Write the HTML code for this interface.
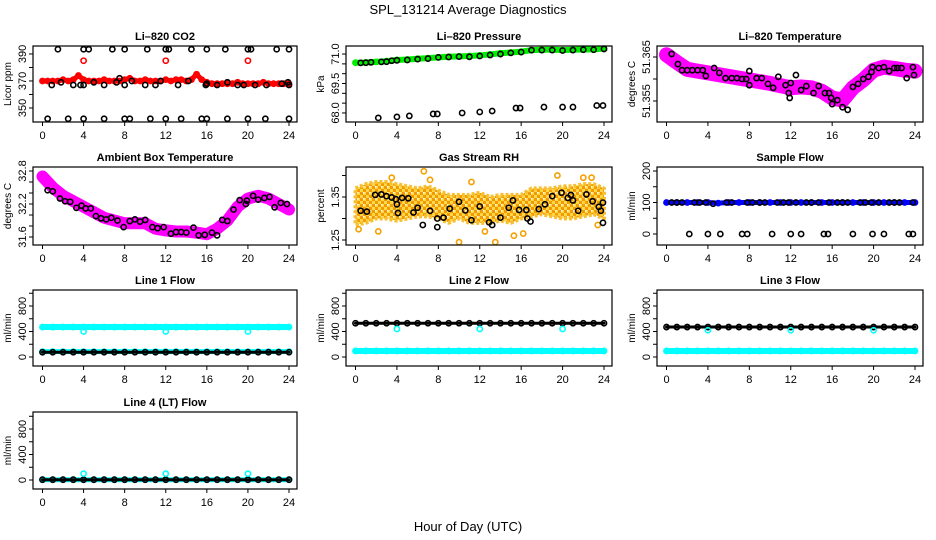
<!DOCTYPE html>
<html><head><meta charset="utf-8">
<style>
html,body{margin:0;padding:0;background:#fff;}
svg{display:block;font-family:"Liberation Sans",Arial,sans-serif;}
</style></head>
<body>
<svg id="chart" width="936" height="540" viewBox="0 0 936 540" xmlns="http://www.w3.org/2000/svg">
<defs>
<pattern id="rhpat" width="6" height="6" patternUnits="userSpaceOnUse">
<rect width="6" height="6" fill="#ffd84a"/>
<rect x="0" y="0" width="3" height="3" fill="#f29a00"/>
<rect x="3" y="3" width="3" height="3" fill="#f29a00"/>
<rect x="3" y="0" width="1.5" height="1.5" fill="#ffffff"/>
</pattern>
</defs>
<text x="468" y="14" text-anchor="middle" font-size="13">SPL_131214  Average Diagnostics</text>
<text x="468" y="531" text-anchor="middle" font-size="13">Hour of Day (UTC)</text>
</svg>
<script>
// ---------- data ----------
const xTicks = [0,4,8,12,16,20,24];

const co2Red = [370,370,370,370,371,370,371,374,371,370,370,370,371,370,370,370,371,372,370,370,371,370,370,370,371,370,371,371,370,371,375,371,369,368,368,368,368,368,369,368,368,368,368,369,368,368,368,368,368];
const co2RedOutHours = [4,12,20];
const co2RedOutVals = [385,385,385];
const co2BlkHours = [1.5,4,4.5,6.8,8,10.2,12,12.3,14.5,16,17.8,20,20.3,22.8,24, 0.5,2.5,4,6,8,8.5,10.5,12,13.5,15.5,16,18,20,21.7,24, 0.9,1.8,3,3.7,4,5,6,7.2,7.5,8,8.7,10,11,11.5,13.2,14.2,15.9,16,17,18,19,19.6,20.7,21.8,23.3,23.9,24];
const co2BlkVals = [393.5,393.5,393.5,393.5,393.5,393.5,393.5,393.5,393.5,393.5,393.5,393.5,393.5,393.5,393.5, 342,342,342,342,342,342,342,342,342,342,342,342,342,342,342, 367,369,367,367,367,369,367,369,372,367,370,367,367,370,367,370,367,368,367,369,367,367,367,367,368,369,367];

const presGreen = [70.56,70.57,70.6,70.64,70.7,70.72,70.76,70.79,70.83,70.86,70.88,70.9,70.93,70.98,71.04,71.08,71.12,71.2,71.22,71.22,71.2,71.22,71.23,71.24,71.28];
const presBlkHours = [2.2,4,5.2,7.5,7.9,10.3,12,13.2,15.5,15.9,18.2,20,21,23.3,23.9, 0.5,1,1.5,2.5,3,3.5,4,5,6,7,8,9,10,11,12,13,14,15,16,17,18,19,20,21,22,23,24];
const presBlkVals = [67.75,67.8,67.85,67.95,67.95,68.0,68.05,68.1,68.25,68.25,68.3,68.3,68.3,68.38,68.38, 70.55,70.56,70.58,70.6,70.61,70.66,70.68,70.7,70.74,70.77,70.83,70.85,70.87,70.86,70.9,70.95,71.0,71.06,71.1,71.2,71.2,71.2,71.18,71.2,71.22,71.22,71.26];

const tempMag = [51.3655,51.3638,51.3622,51.3618,51.3614,51.3610,51.3606,51.3602,51.3598,51.3594,51.3590,51.3585,51.3580,51.3582,51.3580,51.3572,51.3557,51.3552,51.3580,51.3598,51.3620,51.3627,51.3624,51.3620,51.3618];
const tempBlkHours = [0.5,1.1,1.5,2,2.5,3,3.5,3.8,4.6,5.1,5.7,6.3,6.8,7.3,7.7,8,8,8.7,9.2,9.8,10.3,10.8,11.5,11.8,11.9,12,12.5,13,13.5,14.2,14.7,15.3,15.7,15.9,16,16.5,17,17.5,18,18.5,19,19.5,19.8,19.9,20.5,21,21.5,22,22.3,22.7,23.2,23.8,23.9];
const tempBlkVals = [51.3657,51.3634,51.3620,51.3620,51.3620,51.3620,51.3620,51.3607,51.3625,51.3614,51.3602,51.3602,51.3602,51.3600,51.3600,51.3618,51.3586,51.3602,51.3602,51.3589,51.3580,51.3605,51.3586,51.3568,51.3557,51.3591,51.3609,51.3575,51.3584,51.3568,51.3584,51.3568,51.3568,51.3557,51.3543,51.3552,51.3536,51.3530,51.3582,51.3589,51.3600,51.3605,51.3616,51.3627,51.3625,51.3627,51.3618,51.3625,51.3625,51.3625,51.3602,51.3627,51.3609];

const ambMag = [32.7,32.5,32.35,32.25,32.15,32.05,31.95,31.9,31.85,31.85,31.85,31.75,31.72,31.7,31.7,31.68,31.65,31.75,31.9,32.15,32.3,32.35,32.3,32.2,32.1];
const ambBlkHours = [0.5,1,1.7,2.2,2.7,3.3,3.8,4.2,4.7,5.2,5.7,6.2,6.7,7.3,7.9,8.5,9,9.5,10,10.7,11.2,11.8,12.5,13,13.5,14,14.7,15.2,15.8,16.5,17,17.5,18,18.6,19.2,19.8,19.9,20.5,21,21.6,22.1,22.6,23.2,23.8];
const ambBlkVals = [32.45,32.43,32.3,32.25,32.24,32.13,32.17,32.12,32.12,31.98,31.94,31.92,31.95,31.9,31.78,31.89,31.92,31.88,31.91,31.78,31.76,31.78,31.66,31.69,31.69,31.68,31.77,31.63,31.64,31.68,31.63,31.91,31.89,32.1,32.27,32.2,32.26,32.35,32.28,32.31,32.33,32.14,32.22,32.2];

const rhUpper = [1.37,1.38,1.385,1.385,1.38,1.375,1.37,1.375,1.365,1.355,1.355,1.355,1.36,1.35,1.355,1.355,1.355,1.37,1.37,1.37,1.375,1.375,1.38,1.38,1.37];
const rhLower = [1.285,1.29,1.30,1.30,1.295,1.30,1.305,1.305,1.30,1.29,1.30,1.29,1.29,1.29,1.295,1.29,1.30,1.305,1.31,1.305,1.30,1.30,1.305,1.31,1.30];
const rhOutHours = [0.3,2.2,3.5,6.6,7.2,10,11.2,13.5,15.3,16.2,19.5,22,22.8,23.4,12.5];
const rhOutVals = [1.275,1.27,1.395,1.41,1.39,1.245,1.385,1.245,1.26,1.265,1.40,1.395,1.395,1.285,1.27];
const rhBlkHours = [0.5,1.1,1.9,2.5,3,3.5,3.9,4,4.1,4.5,5.1,5.6,6,6.5,7.2,7.9,7.9,8.5,9.1,10,10.6,11.2,12,12.9,13.2,14,14.8,15.2,15.8,16.5,16.6,16.9,17.7,18.3,19,19.9,20.5,20.8,21,21.5,22.3,22.9,23.5,23.9,23.9,23.7];
const rhBlkVals = [1.318,1.316,1.355,1.356,1.352,1.349,1.345,1.333,1.313,1.348,1.347,1.314,1.325,1.285,1.318,1.28,1.30,1.302,1.323,1.339,1.319,1.296,1.328,1.291,1.285,1.302,1.325,1.342,1.32,1.32,1.30,1.293,1.322,1.333,1.352,1.36,1.348,1.355,1.342,1.318,1.356,1.34,1.327,1.337,1.29,1.318];

const sampBlue = [100,100,100,100,100,98,100,100,100,100,100,100,100,100,100,100,100,100,100,100,100,100,100,100,100];
const sampBlkHours = [0.5,1,1.5,2.7,3.2,3.8,4.5,5.8,6.3,7.8,8.3,9,9.5,10.7,11.3,11.8,12.5,13.5,14,14.7,15.7,16.5,17,17.5,18.7,19.2,19.8,20.5,21.5,22,22.5,23.8, 2.2,4,5.2,7.3,7.8,10.2,12,13,15.2,15.6,18,19.9,21,23.4,23.8];
const sampBlkVals = [100,100,100,100,100,100,96,100,100,100,100,100,100,100,100,100,100,100,100,100,100,100,100,100,100,100,100,100,100,100,100,100, 0,0,0,0,0,0,0,0,0,0,0,0,0,0,0];

const l1CyanHi = [470,470,470,470,470,470,470,470,470,470,470,470,470,470,470,470,470,470,470,470,470,470,470,470,470];
const l1CyanLo = [85,85,85,85,85,85,85,85,85,85,85,85,85,85,85,85,85,85,85,85,85,85,85,85,85];
const l1Black = [75,75,75,75,75,75,75,75,75,75,75,75,75,75,75,75,75,75,75,75,75,75,75,75,75];
const l1OutVals = [400,400,400];

const l2Black = [530,530,530,530,530,530,530,530,530,530,530,530,530,530,530,530,530,530,530,530,530,530,530,530,530];
const l2Cyan = [95,95,95,95,95,95,95,95,95,95,95,95,95,95,95,95,95,95,95,95,95,95,95,95,95];
const l2OutVals = [440,440,440];

const l3Black = [470,470,470,470,470,470,470,470,470,470,470,470,470,470,470,470,470,470,470,470,470,470,470,470,470];
const l3Cyan = [95,95,95,95,95,95,95,95,95,95,95,95,95,95,95,95,95,95,95,95,95,95,95,95,95];
const l3OutVals = [420,420,420];

const l4Black = [5,5,5,5,5,5,5,5,5,5,5,5,5,5,5,5,5,5,5,5,5,5,5,5,5];
const l4Cyan = [5,5,5,5,5,5,5,5,5,5,5,5,5,5,5,5,5,5,5,5,5,5,5,5,5];
const l4OutVals = [100,100,100];
const flowOutHours = [4,12,20];

// ---------- drawing ----------
const NS = 'http://www.w3.org/2000/svg';
const svg = document.getElementById('chart');
function mk(tag, attrs, parent){
  const e = document.createElementNS(NS, tag);
  for (const k in attrs) e.setAttribute(k, attrs[k]);
  (parent||svg).appendChild(e);
  return e;
}
const colBox = [[33,297],[346,612],[657,923]];
const rowBox = [[46,122],[167,245],[290,366],[412,489]];

function makePanel(name, col, row, lo, hi, ticks, labels, title, ylab){
  const [bx0,bx1] = colBox[col], [by0,by1] = rowBox[row];
  const g = mk('g', {});
  
  
  const x0 = bx0 + 9.5, x1 = bx1 - 8;
  const xs = h => x0 + (x1 - x0) * h / 24;
  const ys = v => by1 - (v - lo) / (hi - lo) * (by1 - by0);
  const t = mk('text', {x:(bx0+bx1)/2, y:by0-6, 'text-anchor':'middle','font-size':11,'font-weight':'bold'}, g);
  t.textContent = title;
  
  
  const yl = mk('text', {transform:`translate(${bx0-22},${(by0+by1)/2}) rotate(-90)`, 'text-anchor':'middle','font-size':10}, g);
  yl.textContent = ylab;
  
  
  const ax = mk('g', {}, g);
  
  
  xTicks.forEach(h => {
    mk('line', {x1:xs(h), x2:xs(h), y1:by1, y2:by1+4, stroke:'#000','stroke-width':1}, ax);
    const tl = mk('text', {x:xs(h), y:by1+17, 'text-anchor':'middle','font-size':11}, ax);
    tl.textContent = h;
  });
  const ay = mk('g', {}, g);
  
  
  ticks.forEach(v => {
    mk('line', {x1:bx0-4, x2:bx0, y1:ys(v), y2:ys(v), stroke:'#000','stroke-width':1}, ay);
  });
  labels.forEach(v => {
    const tl = mk('text', {transform:`translate(${bx0-7},${ys(v)}) rotate(-90)`, 'text-anchor':'middle','font-size':11}, ay);
    tl.textContent = v;
  });
  const plot = mk('g', {}, g);
  
  
  mk('rect', {x:bx0, y:by0, width:bx1-bx0, height:by1-by0, fill:'none', stroke:'#000','stroke-width':1.2}, g);
  return {plot, xs, ys, by0, by1, bx0, bx1};
}
function band(p, vals, color, w, sname){
  const n = vals.length;
  const pts = vals.map((v,i)=>`${p.xs(i*24/(n-1))},${p.ys(v)}`).join(' ');
  const pl = mk('polyline', {points:pts, fill:'none', stroke:color, 'stroke-width':w, 'stroke-linejoin':'round','stroke-linecap':'round'}, p.plot);
  
  
  vals.forEach((v,i)=>{
    const c = mk('circle', {cx:p.xs(i*24/(n-1)), cy:p.ys(v), r:2.6, fill:'none', stroke:color, 'stroke-width':1.6}, p.plot);
    
    
  });
}
function pts(p, hours, vals, color, sname, sw){
  hours.forEach((h,i)=>{
    const c = mk('circle', {cx:p.xs(Math.min(h,24)), cy:p.ys(vals[i]), r:2.6, fill:'none', stroke:color, 'stroke-width':sw||1.6}, p.plot);
    
    
  });
}

// CO2
let p = makePanel('co2', 0, 0, 339.6, 395.9, [350,360,370,380,390], [350,370,390], 'Li\u2013820 CO2', 'Licor ppm');
band(p, co2Red, '#ff0000', 5, 'co2-red-series');
pts(p, co2RedOutHours, co2RedOutVals, '#ff0000', 'co2-red-outlier');
pts(p, co2BlkHours, co2BlkVals, '#000', 'co2-black-point');

// Pressure
p = makePanel('pressure', 1, 0, 67.54, 71.41, [68,68.5,69,69.5,70,70.5,71], ['68.0','69.5','71.0'], 'Li\u2013820 Pressure', 'kPa');
band(p, presGreen, '#00ee00', 6, 'pressure-green-series');
pts(p, presBlkHours, presBlkVals, '#000', 'pressure-black-point');

// Li temp
p = makePanel('li-temp', 2, 0, 51.35023, 51.3675, [51.355,51.36,51.365], ['51.355','51.365'], 'Li\u2013820 Temperature', 'degrees C');
band(p, tempMag, '#ff00ff', 15, 'li-temp-magenta-series');
pts(p, tempBlkHours, tempBlkVals, '#000', 'li-temp-black-point');

// Ambient
p = makePanel('ambient', 0, 1, 31.4545, 32.873, [31.6,31.8,32.0,32.2,32.4,32.6,32.8], ['31.6','32.2','32.8'], 'Ambient Box Temperature', 'degrees C');
band(p, ambMag, '#ff00ff', 12, 'ambient-magenta-series');
pts(p, ambBlkHours, ambBlkVals, '#000', 'ambient-black-point');

// RH
p = makePanel('rh', 1, 1, 1.2384, 1.4198, [1.25,1.30,1.35,1.40], ['1.25','1.35'], 'Gas Stream RH', 'percent');
{
  const n = rhUpper.length;
  const up = rhUpper.map((v,i)=>`${p.xs(i*24/(n-1))},${p.ys(v)}`);
  const dn = rhLower.map((v,i)=>`${p.xs(i*24/(n-1))},${p.ys(v)}`).reverse();
  const poly = mk('polygon', {points: up.concat(dn).join(' '), fill:'url(#rhpat)', stroke:'#f8c030','stroke-width':4,'stroke-linejoin':'round','stroke-dasharray':'3 2'}, p.plot);
  
  
}
pts(p, rhOutHours, rhOutVals, '#f5a000', 'rh-outlier-point');
pts(p, rhBlkHours, rhBlkVals, '#000', 'rh-black-point');

// Sample flow
p = makePanel('sample-flow', 2, 1, -34.9, 212.7, [0,50,100,150,200], [0,100,200], 'Sample Flow', 'ml/min');
band(p, sampBlue, '#0000ff', 5, 'sample-flow-blue-series');
pts(p, sampBlkHours, sampBlkVals, '#000', 'sample-flow-black-point');

const fT = [0,200,400,600,800,1000], fL = [0,400,800];
// Line 1
p = makePanel('line1-flow', 0, 2, -141, 1051, fT, fL, 'Line 1 Flow', 'ml/min');
band(p, l1CyanHi, '#00ffff', 6, 'line1-cyan-high-series');
band(p, l1CyanLo, '#00ffff', 5, 'line1-cyan-low-series');
band(p, l1Black, '#000', 3, 'line1-black-series');
pts(p, flowOutHours, l1OutVals, '#00ffff', 'line1-cyan-outlier');
// Line 2
p = makePanel('line2-flow', 1, 2, -141, 1051, fT, fL, 'Line 2 Flow', 'ml/min');
band(p, l2Cyan, '#00ffff', 6, 'line2-cyan-series');
band(p, l2Black, '#000', 3, 'line2-black-series');
pts(p, flowOutHours, l2OutVals, '#00ffff', 'line2-cyan-outlier');
// Line 3
p = makePanel('line3-flow', 2, 2, -141, 1051, fT, fL, 'Line 3 Flow', 'ml/min');
band(p, l3Cyan, '#00ffff', 6, 'line3-cyan-series');
band(p, l3Black, '#000', 3, 'line3-black-series');
pts(p, flowOutHours, l3OutVals, '#00ffff', 'line3-cyan-outlier');
// Line 4
p = makePanel('line4-flow', 0, 3, -141, 1067, fT, fL, 'Line 4 (LT) Flow', 'ml/min');
band(p, l4Cyan, '#00ffff', 5, 'line4-cyan-series');
band(p, l4Black, '#000', 3, 'line4-black-series');
pts(p, flowOutHours, l4OutVals, '#00ffff', 'line4-cyan-outlier');
</script>
</body></html>
